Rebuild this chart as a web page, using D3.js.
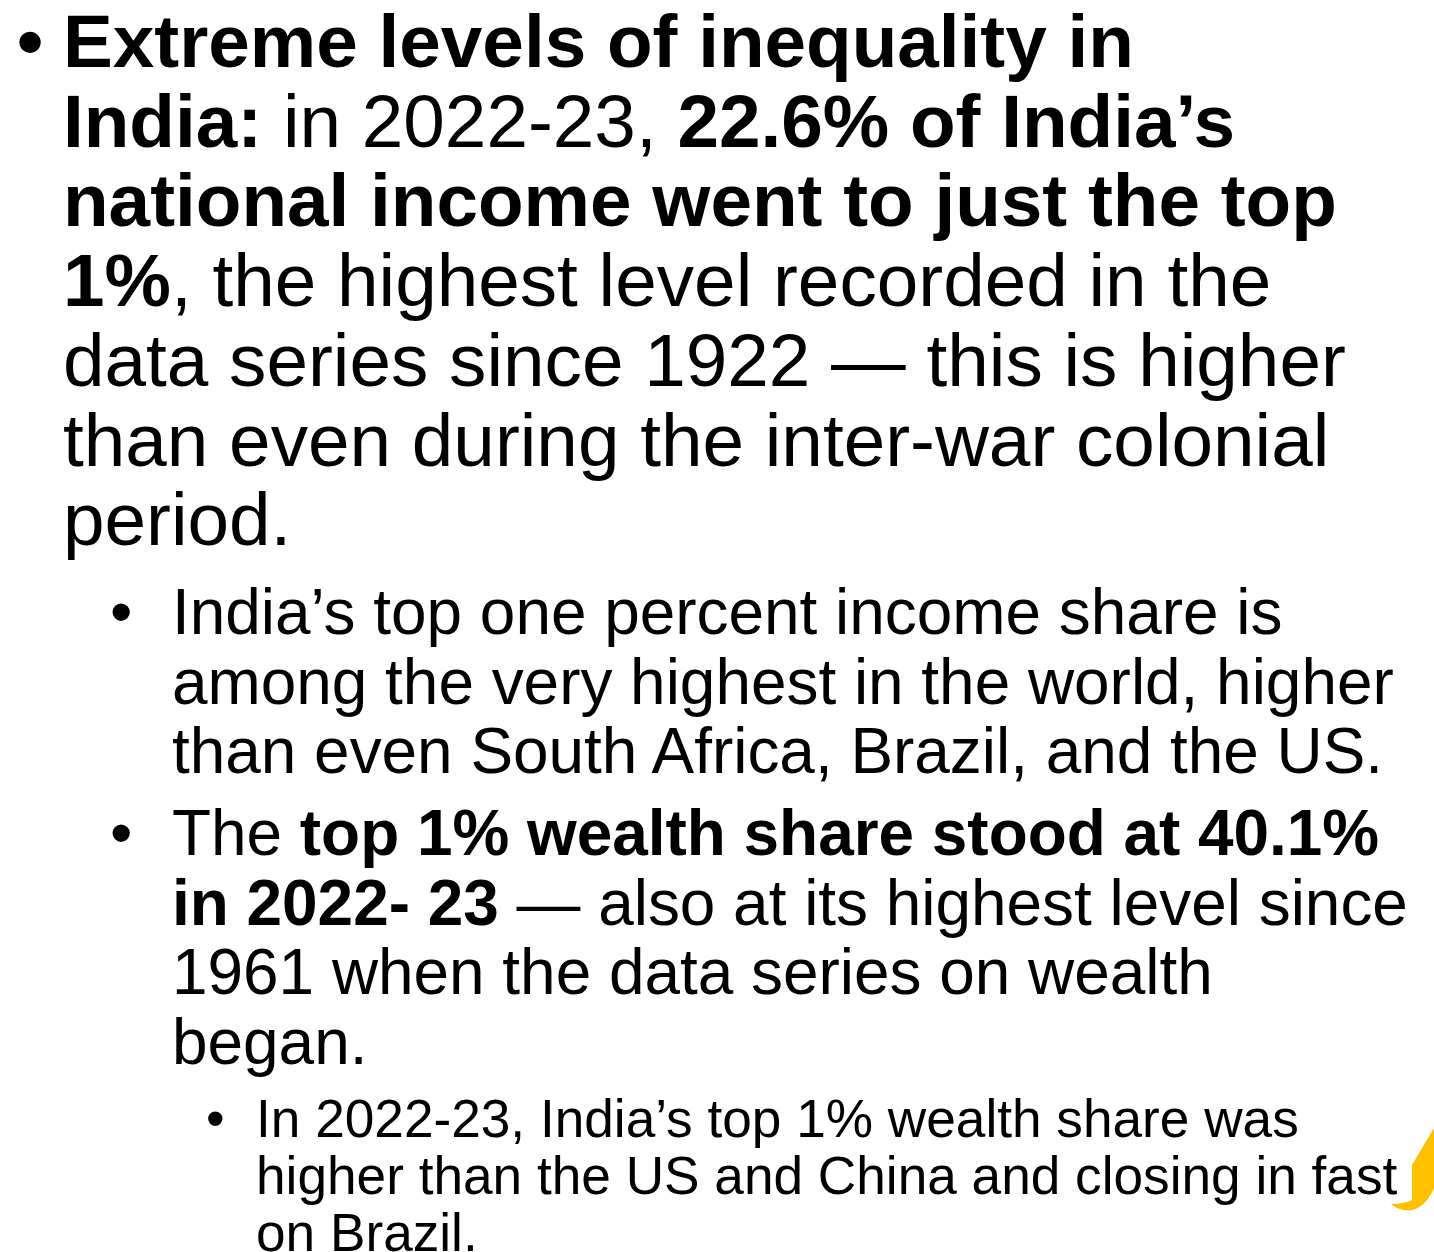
<!DOCTYPE html>
<html>
<head>
<meta charset="utf-8">
<script src="https://cdn.jsdelivr.net/npm/d3@7"></script>
<style>
  html, body { margin: 0; padding: 0; background: #fff; }
  text { font-family: "Liberation Sans", Arial, sans-serif; fill: #000; }
</style>
</head>
<body>
<div id="main"></div>
<script>
// text of the slide, **...** marks bold runs
const level1Lines = [
    "**Extreme levels of inequality in**",
    "**India:** in 2022-23, **22.6% of India’s**",
    "**national income went to just the top**",
    "**1%**, the highest level recorded in the",
    "data series since 1922 — this is higher",
    "than even during the inter-war colonial",
    "period."
];
const level2aLines = [
    "India’s top one percent income share is",
    "among the very highest in the world, higher",
    "than even South Africa, Brazil, and the US."
];
const level2bLines = [
    "The **top 1% wealth share stood at 40.1%**",
    "**in 2022- 23** — also at its highest level since",
    "1961 when the data series on wealth",
    "began."
];
const level3Lines = [
    "In 2022-23, India’s top 1% wealth share was",
    "higher than the US and China and closing in fast",
    "on Brazil."
];

const W = 1434, H = 1252;

const svg = d3.select("#main")
    .append("svg")
    .attr("width", W)
    .attr("height", H);

/*
    one block of bulleted text
*/
function drawBlock(lines, opt) {
    const y = d3.scaleLinear()
        .domain([0, 1])
        .range([opt.top, opt.top + opt.step]);

    const g = svg.append("g");

    g.append("text")
        .attr("x", opt.bulletX)
        .attr("y", y(0))
        .attr("font-size", opt.size)
        .attr("font-weight", opt.bulletBold ? "bold" : "normal")
        .text("•");

    const t = g.selectAll("text.line")
        .data(lines)
        .enter()
        .append("text")
        .attr("class", "line")
        .attr("x", opt.x)
        .attr("y", (d, i) => y(i))
        .attr("font-size", opt.size)
        .attr("xml:space", "preserve");

    t.selectAll("tspan")
        .data(d => d.split("**").map((s, i) => ({ s: s, bold: i % 2 === 1 })).filter(p => p.s.length))
        .enter()
        .append("tspan")
        .attr("font-weight", p => p.bold ? "bold" : "normal")
        .text(p => p.s);
}

drawBlock(level1Lines,  { x: 63,  bulletX: 17,  top: 67,   step: 79.7, size: 74.7, bulletBold: true });
drawBlock(level2aLines, { x: 172, bulletX: 110, top: 634,  step: 69.5, size: 63.9 });
drawBlock(level2bLines, { x: 172, bulletX: 110, top: 855,  step: 69.5, size: 63.9 });
drawBlock(level3Lines,  { x: 256, bulletX: 206, top: 1137, step: 57,   size: 53.2 });

/*
    yellow corner decoration
*/
svg.append("path")
    .attr("d", "M1434,1128 L1412,1165 L1412,1200 Q1404,1204 1391,1204 Q1400,1212 1413,1210 Q1426,1206 1434,1188 Z")
    .attr("fill", "#ffc000");
</script>
</body>
</html>
